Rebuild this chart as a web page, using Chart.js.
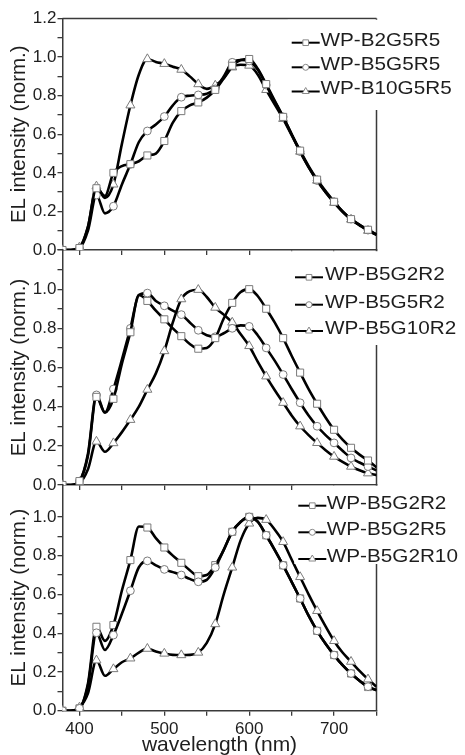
<!DOCTYPE html>
<html><head><meta charset="utf-8">
<script src="https://cdn.jsdelivr.net/npm/chart.js@4.4.0/dist/chart.umd.min.js"></script>
<style>
html,body{margin:0;padding:0;background:#fff;}
#wrap{position:relative;width:465px;height:755px;overflow:hidden;background:#fff;}
canvas{position:absolute;left:0;}
</style></head><body>
<div id="wrap">
<canvas id="c1" width="465" height="262" style="top:0px"></canvas>
<canvas id="c2" width="465" height="259" style="top:238px"></canvas>
<canvas id="c3" width="465" height="283" style="top:472px"></canvas>
</div>
<script>
// ---------- data ----------
const wavelengths = [380,390,400,410,420,430,440,450,460,470,480,490,500,510,520,530,540,550,560,570,580,590,600,610,620,630,640,650,660,670,680,690,700,710,720,730,740,750];
const xTickValues = [400,450,500,550,600,650,700,750];
const xTickLabels = ['400','500','600','700'];
const yTickLabels = ['0.0','0.2','0.4','0.6','0.8','1.0','1.2'];
const xTitle = 'wavelength (nm)';
const yTitle = 'EL intensity (norm.)';

const panel1Labels = ['WP-B2G5R5','WP-B5G5R5','WP-B10G5R5'];
const p1B2G5R5  = [0,0,0.01,0.12,0.32,0.28,0.40,0.435,0.445,0.46, 0.49,0.50,0.565,0.66,0.72,0.75,0.765,0.79,0.83,0.89, 0.955,0.985,0.99,0.94,0.86,0.775,0.69,0.60,0.515,0.435, 0.365,0.305,0.25,0.20,0.16,0.13,0.105,0.08];
const p1B5G5R5  = [0,0,0.01,0.10,0.285,0.19,0.227,0.34,0.444,0.56, 0.617,0.65,0.692,0.75,0.792,0.80,0.804,0.81,0.835,0.90, 0.973,0.985,0.98,0.935,0.855,0.77,0.69,0.60,0.51,0.43, 0.36,0.30,0.25,0.20,0.16,0.13,0.103,0.08];
const p1B10G5R5 = [0,0,0.014,0.12,0.33,0.27,0.34,0.55,0.75,0.91, 0.99,0.975,0.965,0.95,0.935,0.90,0.86,0.835,0.853,0.89, 0.947,0.96,0.956,0.91,0.83,0.755,0.68,0.595,0.51,0.43, 0.36,0.30,0.245,0.198,0.158,0.128,0.10,0.078];

const panel2Labels = ['WP-B5G2R2','WP-B5G5R2','WP-B5G10R2'];
const p2B5G2R2  = [0,0,0.02,0.15,0.45,0.37,0.44,0.62,0.78,0.97, 0.94,0.89,0.846,0.80,0.76,0.72,0.696,0.70,0.75,0.85, 0.93,0.985,1.0,0.965,0.90,0.83,0.75,0.66,0.574,0.49, 0.415,0.345,0.282,0.232,0.19,0.155,0.125,0.09];
const p2B5G5R2  = [0,0,0.02,0.16,0.46,0.37,0.49,0.64,0.80,0.97, 0.98,0.94,0.915,0.89,0.87,0.83,0.79,0.765,0.757,0.775, 0.80,0.815,0.81,0.765,0.70,0.635,0.564,0.49,0.42,0.355, 0.30,0.255,0.215,0.175,0.138,0.115,0.094,0.075];
const p2B5G10R2 = [0,0,0.01,0.08,0.222,0.17,0.214,0.27,0.333,0.40, 0.487,0.57,0.684,0.83,0.949,0.99,0.997,0.96,0.906,0.87, 0.83,0.77,0.71,0.63,0.555,0.485,0.42,0.355,0.30,0.255, 0.215,0.178,0.145,0.118,0.094,0.075,0.06,0.05];

const panel3Labels = ['WP-B5G2R2','WP-B5G2R5','WP-B5G2R10'];
const p3B5G2R2  = [0,0,0.012,0.14,0.433,0.36,0.442,0.62,0.777,0.95, 0.945,0.89,0.842,0.80,0.763,0.725,0.694,0.70,0.751,0.83, 0.923,0.975,1.0,0.975,0.905,0.83,0.75,0.665,0.579,0.49, 0.412,0.345,0.287,0.235,0.192,0.155,0.122,0.105];
const p3B5G2R5  = [0,0,0.012,0.13,0.402,0.313,0.39,0.50,0.619,0.74, 0.773,0.75,0.729,0.715,0.70,0.68,0.665,0.675,0.739,0.83, 0.923,0.975,1.0,0.975,0.905,0.83,0.75,0.665,0.579,0.49, 0.412,0.345,0.287,0.235,0.192,0.155,0.124,0.107];
const p3B5G2R10 = [0,0,0.017,0.09,0.26,0.18,0.215,0.25,0.27,0.30, 0.32,0.305,0.295,0.288,0.287,0.288,0.30,0.35,0.447,0.60, 0.739,0.88,0.966,0.995,0.985,0.935,0.871,0.78,0.69,0.60, 0.515,0.435,0.36,0.30,0.253,0.205,0.162,0.124];

// ---------- styling ----------
const FONT = '"Liberation Sans", Arial, Helvetica, sans-serif';
const AXIS = '#3a3a3a';
const TEXT = '#1e1e1e';
const markerStyles = ['rect','circle','triangle'];
const markerRadii = [5, 3.9, 5.2];

function drawMarker(ctx, style, x, y, r) {
  ctx.beginPath();
  if (style === 'rect') { const s = r * Math.SQRT1_2; ctx.rect(x - s, y - s, 2 * s, 2 * s); }
  else if (style === 'circle') { ctx.arc(x, y, r, 0, Math.PI * 2); }
  else {
    let a = 0;
    ctx.moveTo(x + Math.sin(a) * r, y - Math.cos(a) * r); a += 2 * Math.PI / 3;
    ctx.lineTo(x + Math.sin(a) * r, y - Math.cos(a) * r); a += 2 * Math.PI / 3;
    ctx.lineTo(x + Math.sin(a) * r, y - Math.cos(a) * r);
    ctx.closePath();
  }
  ctx.fill(); ctx.stroke();
}

const framePlugin = {
  id: 'frame',
  beforeDatasetsDraw(chart, args, opts) {
    const {ctx, chartArea: ca} = chart;
    ctx.save();
    ctx.strokeStyle = AXIS; ctx.lineWidth = 1.5;
    ctx.beginPath();
    if (opts.top) { ctx.moveTo(ca.left, ca.top); ctx.lineTo(ca.right, ca.top); }
    ctx.moveTo(ca.right, ca.top); ctx.lineTo(ca.right, ca.bottom);
    ctx.stroke();
    ctx.restore();
  }
};

const legendPlugin = {
  id: 'inlineLegend',
  afterDatasetsDraw(chart, args, o) {
    const {ctx, chartArea: ca} = chart;
    const off = o.offset;
    ctx.save();
    ctx.fillStyle = '#fff';
    ctx.fillRect(o.lineX - 4, ca.top + 1.2, chart.width - o.lineX + 4, o.boxBottom - off - ca.top - 1.2);
    chart.data.datasets.forEach((ds, i) => {
      const cy = o.rows[i] - off;
      const ly = cy + 4;
      ctx.strokeStyle = '#000'; ctx.lineWidth = 2;
      ctx.beginPath(); ctx.moveTo(o.lineX, ly); ctx.lineTo(o.lineX + 28, ly); ctx.stroke();
      ctx.fillStyle = '#fff'; ctx.strokeStyle = '#888'; ctx.lineWidth = 1;
      drawMarker(ctx, markerStyles[i], o.lineX + 14, ly, [4, 3, 4][i]);
      ctx.save();
      ctx.translate(o.textX, cy + 6.8);
      ctx.scale(1.09, 1);
      ctx.fillStyle = TEXT;
      ctx.font = '19px ' + FONT;
      ctx.textBaseline = 'alphabetic';
      ctx.fillText(ds.label, 0, 0);
      ctx.restore();
    });
    ctx.restore();
  }
};

function makeDatasets(labels, series, orders) {
  return series.map((vals, i) => ({
    label: labels[i],
    data: wavelengths.map((w, k) => ({x: w, y: vals[k]})),
    borderColor: '#000',
    borderWidth: 2.6,
    pointStyle: markerStyles[i],
    pointRadius: wavelengths.map(w => (w % 20 === 0 && w < 750) ? markerRadii[i] : 0),
    pointBackgroundColor: '#fff',
    pointBorderColor: '#7a7a7a',
    pointBorderWidth: 1,
    cubicInterpolationMode: 'monotone',
    fill: false,
    order: orders[i]
  }));
}

function makeChart(id, datasets, cfg) {
  return new Chart(document.getElementById(id), {
    type: 'line',
    data: {datasets},
    options: {
      responsive: false, animation: false, devicePixelRatio: 1, events: [],
      layout: {padding: {top: cfg.padTop, right: 88.5, left: 0, bottom: 0}},
      plugins: {
        legend: {display: false}, tooltip: {enabled: false},
        frame: {top: cfg.frameTop},
        inlineLegend: cfg.legend
      },
      scales: {
        x: {
          type: 'linear', min: 380, max: 750, position: 'bottom',
          afterBuildTicks: s => { s.ticks = xTickValues.map(v => ({value: v})); },
          afterFit: s => { s.height = cfg.xHeight; },
          ticks: {display: cfg.showX, autoSkip: false, maxRotation: 0, padding: 3,
                  color: TEXT, font: {family: FONT, size: 17},
                  callback: v => xTickLabels.includes(String(v)) ? String(v) : ''},
          grid: {drawOnChartArea: false, drawTicks: true, tickLength: 5, color: AXIS, lineWidth: 1.3},
          border: {display: true, color: AXIS, width: 1.5},
          title: {display: cfg.showX, text: xTitle, color: TEXT, font: {family: FONT, size: 21}, padding: {top: 0, bottom: -3}}
        },
        y: {
          type: 'linear', min: 0, max: cfg.yMax,
          afterBuildTicks: s => { s.ticks = s.ticks.filter(t => Math.abs(t.value * 10 - Math.round(t.value * 10)) < 1e-6); },
          afterFit: s => { s.width = 62.5; },
          ticks: {stepSize: 0.1, autoSkip: false, padding: 1, color: TEXT, font: {family: FONT, size: 17},
                  callback: v => { const k = Math.round(v * 10); if (k % 2) return ''; const lab = yTickLabels[k / 2]; return (lab && !cfg.hideY.includes(lab)) ? lab : ''; }},
          grid: {drawOnChartArea: false, drawTicks: true, tickLength: 5, color: AXIS, lineWidth: 1.3},
          border: {display: true, color: AXIS, width: 1.5},
          title: {display: true, text: yTitle, color: TEXT, font: {family: FONT, size: 20.5}, padding: {top: 7, bottom: 0}}
        }
      }
    },
    plugins: [framePlugin, legendPlugin]
  });
}

makeChart('c1', makeDatasets(panel1Labels, [p1B2G5R5, p1B5G5R5, p1B10G5R5], [0, 1, 2]), {
  padTop: 18.5, xHeight: 12, showX: false, yMax: 1.2, hideY: [], frameTop: true,
  legend: {offset: 0, rows: [38.7, 63.3, 87.5], lineX: 291.7, textX: 320.5, boxBottom: 110}
});
makeChart('c2', makeDatasets(panel2Labels, [p2B5G2R2, p2B5G5R2, p2B5G10R2], [0, 1, 2]), {
  padTop: 12, xHeight: 12, showX: false, yMax: 1.2, hideY: ['1.2'], frameTop: false,
  legend: {offset: 238, rows: [273.3, 300.7, 327], lineX: 295, textX: 325, boxBottom: 345}
});
makeChart('c3', makeDatasets(panel3Labels, [p3B5G2R2, p3B5G2R5, p3B5G2R10], [1, 0, 2]), {
  padTop: 12.5, xHeight: 44.3, showX: true, yMax: 1.167, hideY: [], frameTop: false,
  legend: {offset: 472, rows: [501.7, 528.3, 555], lineX: 298.3, textX: 326.7, boxBottom: 564}
});
</script>
</body></html>
